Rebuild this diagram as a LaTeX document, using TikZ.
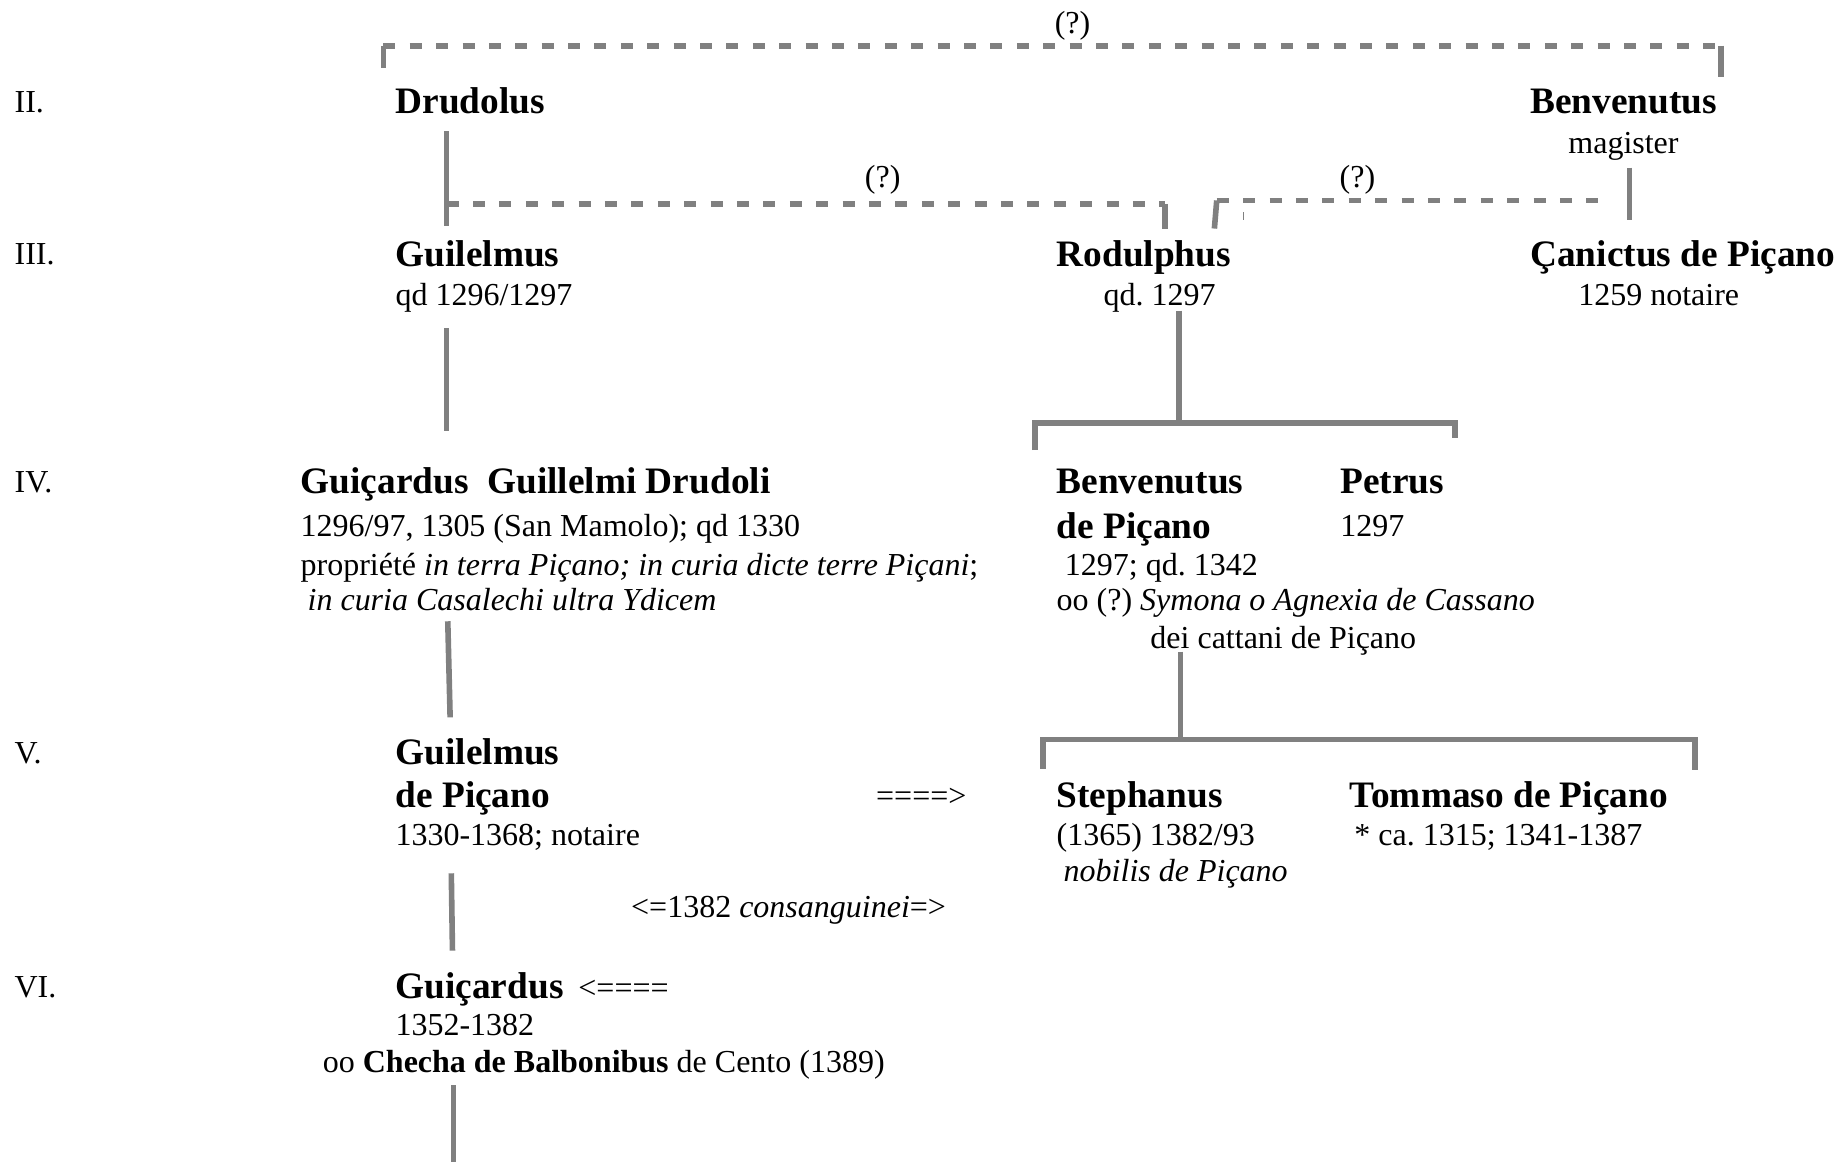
\documentclass[tikz,border=0pt]{standalone}
\usepackage{fontspec}
\setmainfont{Liberation Serif}
\definecolor{linegray}{RGB}{128,128,128}
\frenchspacing
\begin{document}
\begin{tikzpicture}[x=0.4396pt,y=-0.4396pt,
  txt/.style={anchor=base west,inner sep=0pt,font=\fontsize{12}{14}\selectfont},
  ctxt/.style={anchor=base,inner sep=0pt,font=\fontsize{12}{14}\selectfont},
  pname/.style={anchor=base west,inner sep=0pt,font=\fontsize{14}{16}\selectfont\bfseries},
  solidline/.style={draw=linegray,line width=2.1pt},
  dashline/.style={draw=linegray,line width=2.1pt,dash pattern=on 4.5pt off 5.4pt},
  tinyline/.style={draw=linegray,line width=0.4pt}]
\useasboundingbox (0,0) rectangle (1568,991);

% generation labels
\node[txt] (gII) at (12,96) {II.};
\node[txt] (gIII) at (12,226) {III.};
\node[txt] (gIV) at (12,420) {IV.};
\node[txt] (gV) at (12,651) {V.};
\node[txt] (gVI) at (12,851) {VI.};

% row II
\node[pname] (drudolus) at (337,97) {Drudolus};
\node[pname] (benvI) at (1305,97) {Benvenutus};
\node[ctxt] (magister) at (1385,131) {magister};
\node[ctxt] (qA) at (915,29) {(?)};
\node[ctxt] (qB) at (753,160) {(?)};
\node[ctxt] (qC) at (1158,160) {(?)};

% row III
\node[pname] (guilI) at (337,227) {Guilelmus};
\node[txt] (guilIa) at (337,261) {qd 1296/1297};
\node[pname] (rodul) at (901,227) {Rodulphus};
\node[txt] (rodula) at (941,261) {qd. 1297};
\node[pname] (canic) at (1305,227) {Çanictus de Piçano};
\node[txt] (canica) at (1346,261) {1259 notaire};

% row IV
\node[pname] (guicI) at (256,421) {Guiçardus\ \ Guillelmi Drudoli};
\node[txt] (guicIa) at (256,458) {1296/97, 1305 (San Mamolo); qd 1330};
\node[txt] (guicIb) at (256,491) {propriété \textit{in terra Piçano; in curia dicte terre Piçani};};
\node[txt] (guicIc) at (262,521) {\textit{in curia Casalechi ultra Ydicem}};
\node[pname] (benvII) at (901,421) {Benvenutus};
\node[pname] (benvIIa) at (901,459) {de Piçano};
\node[txt] (benvIIb) at (908,491) {1297; qd. 1342};
\node[txt] (benvIIc) at (901,521) {oo (?) \textit{Symona o Agnexia de Cassano}};
\node[txt] (benvIId) at (981,553) {dei cattani de Piçano};
\node[pname] (petrus) at (1143,421) {Petrus};
\node[txt] (petrusa) at (1143,458) {1297};

% row V
\node[pname] (guilII) at (337,652) {Guilelmus};
\node[pname] (guilIIa) at (337,689) {de Piçano};
\node[txt] (guilIIb) at (337,721) {1330-1368; notaire};
\node[txt] (arrR) at (747,688) {====>};
\node[pname] (steph) at (901,689) {Stephanus};
\node[txt] (stepha) at (901,721) {(1365) 1382/93};
\node[txt] (stephb) at (907,752) {\textit{nobilis de Piçano}};
\node[pname] (tomm) at (1151,689) {Tommaso de Piçano};
\node[txt] (tomma) at (1155,721) {* ca. 1315; 1341-1387};
\node[txt] (consang) at (538,783) {<=1382 \textit{consanguinei}=>};

% row VI
\node[pname] (guicII) at (337,852) {Guiçardus};
\node[txt] (arrL) at (493,852) {<====};
\node[txt] (guicIIa) at (337,883) {1352-1382};
\node[txt] (guicIIb) at (275,915) {oo \textbf{Checha de Balbonibus} de Cento (1389)};

% connector coordinates
\coordinate (tA1) at (327,58);
\coordinate (tA2) at (327,39);
\coordinate (tA3) at (1468,39);
\coordinate (tA4) at (1468,66);

\coordinate (dr1) at (381,112);
\coordinate (dr2) at (381,193);
\coordinate (dr3) at (381,174);
\coordinate (ro1) at (994,174);
\coordinate (ro2) at (994,195);
\coordinate (ro3) at (1038,171);
\coordinate (ro4) at (1036,195);
\coordinate (bz1) at (1370,171);
\coordinate (tk1) at (1061,181);
\coordinate (tk2) at (1061,188);
\coordinate (bv1) at (1390,143);
\coordinate (bv2) at (1390,188);

\coordinate (gu1) at (381,280);
\coordinate (gu2) at (381,368);
\coordinate (rd1) at (1006,265);
\coordinate (rd2) at (1006,361);
\coordinate (bk1) at (883,384);
\coordinate (bk2) at (883,361);
\coordinate (bk3) at (1241,361);
\coordinate (bk4) at (1241,374);

\coordinate (gc1) at (382,530);
\coordinate (gc2) at (384,612);
\coordinate (bn1) at (1007,556);
\coordinate (bn2) at (1007,631);
\coordinate (bm1) at (890,656);
\coordinate (bm2) at (890,631);
\coordinate (bm3) at (1446,631);
\coordinate (bm4) at (1446,657);

\coordinate (gv1) at (385,745);
\coordinate (gv2) at (386,811);
\coordinate (gx1) at (387,926);
\coordinate (gx2) at (387,991);

% connectors
\draw[solidline] (tA1) -- (tA2);
\draw[dashline] (tA2) -- (tA3);
\draw[solidline] (tA3) -- (tA4);

\draw[solidline] (dr1) -- (dr2);
\draw[dashline] (dr3) -- (ro1);
\draw[solidline] (ro1) -- (ro2);
\draw[solidline] (ro3) -- (ro4);
\draw[dashline] (ro3) -- (bz1);
\draw[tinyline] (tk1) -- (tk2);
\draw[solidline] (bv1) -- (bv2);

\draw[solidline] (gu1) -- (gu2);
\draw[solidline] (rd1) -- (rd2);
\draw[solidline] (bk1) -- (bk2) -- (bk3) -- (bk4);

\draw[solidline] (gc1) -- (gc2);
\draw[solidline] (bn1) -- (bn2);
\draw[solidline] (bm1) -- (bm2) -- (bm3) -- (bm4);

\draw[solidline] (gv1) -- (gv2);
\draw[solidline] (gx1) -- (gx2);
\end{tikzpicture}
\end{document}
